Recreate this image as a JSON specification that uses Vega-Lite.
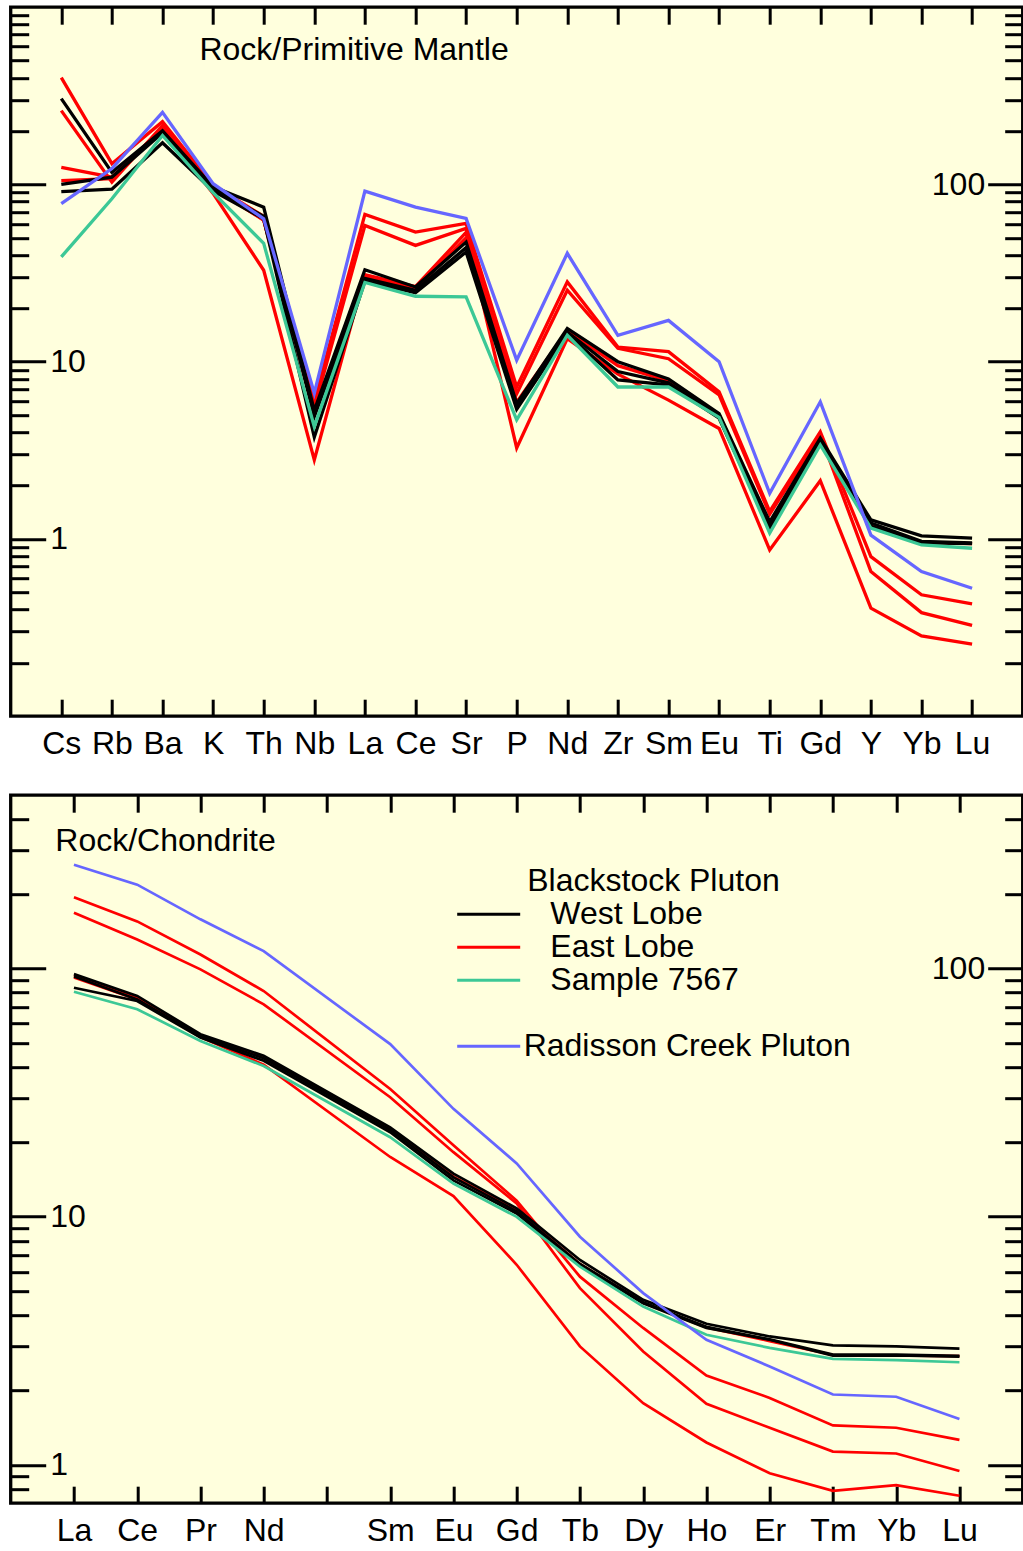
{
  "$schema": "https://vega.github.io/schema/vega-lite/v6.json",
  "background": "white",
  "padding": {"left": 6.7, "top": 3.2, "right": 0, "bottom": 0},
  "config": {
    "view": {"fill": "#FFFFDD", "stroke": "#000000", "strokeWidth": 3.3},
    "axis": {"domain": false, "grid": false, "tickColor": "#000000", "tickWidth": 3, "labelColor": "#000000", "labelFont": "Liberation Sans", "labelFontSize": 32, "labelOverlap": false, "labelFlush": false, "zindex": 1},
    "text": {"font": "Liberation Sans", "fontSize": 32, "color": "#000000"}
  },
  "datasets": {
    "pm": [
      {"g":"East Lobe","s":"E1","i":1,"v":401},{"g":"East Lobe","s":"E1","i":2,"v":131},{"g":"East Lobe","s":"E1","i":3,"v":226},{"g":"East Lobe","s":"E1","i":4,"v":99},{"g":"East Lobe","s":"E1","i":5,"v":66},{"g":"East Lobe","s":"E1","i":6,"v":6.0},{"g":"East Lobe","s":"E1","i":7,"v":67.8},{"g":"East Lobe","s":"E1","i":8,"v":53.9},{"g":"East Lobe","s":"E1","i":9,"v":60.3},{"g":"East Lobe","s":"E1","i":10,"v":7.2},{"g":"East Lobe","s":"E1","i":11,"v":28.2},{"g":"East Lobe","s":"E1","i":12,"v":12.1},{"g":"East Lobe","s":"E1","i":13,"v":11.4},{"g":"East Lobe","s":"E1","i":14,"v":6.76},{"g":"East Lobe","s":"E1","i":15,"v":1.43},{"g":"East Lobe","s":"E1","i":16,"v":4.02},{"g":"East Lobe","s":"E1","i":17,"v":0.795},{"g":"East Lobe","s":"E1","i":18,"v":0.484},{"g":"East Lobe","s":"E1","i":19,"v":0.43},
      {"g":"East Lobe","s":"E2","i":1,"v":261},{"g":"East Lobe","s":"E2","i":2,"v":103},{"g":"East Lobe","s":"E2","i":3,"v":215},{"g":"East Lobe","s":"E2","i":4,"v":97},{"g":"East Lobe","s":"E2","i":5,"v":63},{"g":"East Lobe","s":"E2","i":6,"v":5.5},{"g":"East Lobe","s":"E2","i":7,"v":58.7},{"g":"East Lobe","s":"E2","i":8,"v":45.3},{"g":"East Lobe","s":"E2","i":9,"v":56.5},{"g":"East Lobe","s":"E2","i":10,"v":6.6},{"g":"East Lobe","s":"E2","i":11,"v":25.3},{"g":"East Lobe","s":"E2","i":12,"v":11.9},{"g":"East Lobe","s":"E2","i":13,"v":10.4},{"g":"East Lobe","s":"E2","i":14,"v":6.5},{"g":"East Lobe","s":"E2","i":15,"v":1.38},{"g":"East Lobe","s":"E2","i":16,"v":3.85},{"g":"East Lobe","s":"E2","i":17,"v":0.655},{"g":"East Lobe","s":"E2","i":18,"v":0.384},{"g":"East Lobe","s":"E2","i":19,"v":0.325},
      {"g":"East Lobe","s":"E3","i":1,"v":125},{"g":"East Lobe","s":"E3","i":2,"v":110},{"g":"East Lobe","s":"E3","i":3,"v":205},{"g":"East Lobe","s":"E3","i":4,"v":89},{"g":"East Lobe","s":"E3","i":5,"v":32.8},{"g":"East Lobe","s":"E3","i":6,"v":2.79},{"g":"East Lobe","s":"E3","i":7,"v":31},{"g":"East Lobe","s":"E3","i":8,"v":26.5},{"g":"East Lobe","s":"E3","i":9,"v":53.7},{"g":"East Lobe","s":"E3","i":10,"v":3.26},{"g":"East Lobe","s":"E3","i":11,"v":13.5},{"g":"East Lobe","s":"E3","i":12,"v":8.5},{"g":"East Lobe","s":"E3","i":13,"v":6.07},{"g":"East Lobe","s":"E3","i":14,"v":4.2},{"g":"East Lobe","s":"E3","i":15,"v":0.867},{"g":"East Lobe","s":"E3","i":16,"v":2.13},{"g":"East Lobe","s":"E3","i":17,"v":0.407},{"g":"East Lobe","s":"E3","i":18,"v":0.284},{"g":"East Lobe","s":"E3","i":19,"v":0.255},
      {"g":"East Lobe","s":"E4","i":1,"v":105},{"g":"East Lobe","s":"E4","i":2,"v":108},{"g":"East Lobe","s":"E4","i":3,"v":208},{"g":"East Lobe","s":"E4","i":4,"v":95},{"g":"East Lobe","s":"E4","i":5,"v":63},{"g":"East Lobe","s":"E4","i":6,"v":5.1},{"g":"East Lobe","s":"E4","i":7,"v":30.5},{"g":"East Lobe","s":"E4","i":8,"v":25.8},{"g":"East Lobe","s":"E4","i":9,"v":50},{"g":"East Lobe","s":"E4","i":10,"v":5.9},{"g":"East Lobe","s":"E4","i":11,"v":15},{"g":"East Lobe","s":"E4","i":12,"v":9.5},{"g":"East Lobe","s":"E4","i":13,"v":7.8},{"g":"East Lobe","s":"E4","i":14,"v":5.0},{"g":"East Lobe","s":"E4","i":15,"v":1.22},{"g":"East Lobe","s":"E4","i":16,"v":3.65},{"g":"East Lobe","s":"E4","i":17,"v":1.2},{"g":"East Lobe","s":"E4","i":18,"v":0.96},{"g":"East Lobe","s":"E4","i":19,"v":0.94},
      {"g":"West Lobe","s":"W1","i":1,"v":305},{"g":"West Lobe","s":"W1","i":2,"v":117},{"g":"West Lobe","s":"W1","i":3,"v":201},{"g":"West Lobe","s":"W1","i":4,"v":97},{"g":"West Lobe","s":"W1","i":5,"v":74.5},{"g":"West Lobe","s":"W1","i":6,"v":5.3},{"g":"West Lobe","s":"W1","i":7,"v":33},{"g":"West Lobe","s":"W1","i":8,"v":26.4},{"g":"West Lobe","s":"W1","i":9,"v":47.3},{"g":"West Lobe","s":"W1","i":10,"v":5.8},{"g":"West Lobe","s":"W1","i":11,"v":15.4},{"g":"West Lobe","s":"W1","i":12,"v":10},{"g":"West Lobe","s":"W1","i":13,"v":8.0},{"g":"West Lobe","s":"W1","i":14,"v":5.1},{"g":"West Lobe","s":"W1","i":15,"v":1.25},{"g":"West Lobe","s":"W1","i":16,"v":3.7},{"g":"West Lobe","s":"W1","i":17,"v":1.28},{"g":"West Lobe","s":"W1","i":18,"v":1.04},{"g":"West Lobe","s":"W1","i":19,"v":1.01},
      {"g":"West Lobe","s":"W2","i":1,"v":100},{"g":"West Lobe","s":"W2","i":2,"v":110},{"g":"West Lobe","s":"W2","i":3,"v":196},{"g":"West Lobe","s":"W2","i":4,"v":95},{"g":"West Lobe","s":"W2","i":5,"v":66},{"g":"West Lobe","s":"W2","i":6,"v":4.9},{"g":"West Lobe","s":"W2","i":7,"v":29.5},{"g":"West Lobe","s":"W2","i":8,"v":25.3},{"g":"West Lobe","s":"W2","i":9,"v":44},{"g":"West Lobe","s":"W2","i":10,"v":5.6},{"g":"West Lobe","s":"W2","i":11,"v":14.7},{"g":"West Lobe","s":"W2","i":12,"v":8.8},{"g":"West Lobe","s":"W2","i":13,"v":7.6},{"g":"West Lobe","s":"W2","i":14,"v":4.95},{"g":"West Lobe","s":"W2","i":15,"v":1.2},{"g":"West Lobe","s":"W2","i":16,"v":3.6},{"g":"West Lobe","s":"W2","i":17,"v":1.23},{"g":"West Lobe","s":"W2","i":18,"v":0.97},{"g":"West Lobe","s":"W2","i":19,"v":0.95},
      {"g":"West Lobe","s":"W3","i":1,"v":91},{"g":"West Lobe","s":"W3","i":2,"v":94},{"g":"West Lobe","s":"W3","i":3,"v":172},{"g":"West Lobe","s":"W3","i":4,"v":92},{"g":"West Lobe","s":"W3","i":5,"v":64},{"g":"West Lobe","s":"W3","i":6,"v":3.75},{"g":"West Lobe","s":"W3","i":7,"v":28.5},{"g":"West Lobe","s":"W3","i":8,"v":24.5},{"g":"West Lobe","s":"W3","i":9,"v":41.6},{"g":"West Lobe","s":"W3","i":10,"v":5.4},{"g":"West Lobe","s":"W3","i":11,"v":14.4},{"g":"West Lobe","s":"W3","i":12,"v":7.9},{"g":"West Lobe","s":"W3","i":13,"v":7.4},{"g":"West Lobe","s":"W3","i":14,"v":4.8},{"g":"West Lobe","s":"W3","i":15,"v":1.15},{"g":"West Lobe","s":"W3","i":16,"v":3.53},{"g":"West Lobe","s":"W3","i":17,"v":1.18},{"g":"West Lobe","s":"W3","i":18,"v":0.95},{"g":"West Lobe","s":"W3","i":19,"v":0.94},
      {"g":"Sample 7567","s":"S1","i":1,"v":39},{"g":"Sample 7567","s":"S1","i":2,"v":83},{"g":"Sample 7567","s":"S1","i":3,"v":189},{"g":"Sample 7567","s":"S1","i":4,"v":90},{"g":"Sample 7567","s":"S1","i":5,"v":46.5},{"g":"Sample 7567","s":"S1","i":6,"v":4.3},{"g":"Sample 7567","s":"S1","i":7,"v":28},{"g":"Sample 7567","s":"S1","i":8,"v":23.4},{"g":"Sample 7567","s":"S1","i":9,"v":23.2},{"g":"Sample 7567","s":"S1","i":10,"v":4.7},{"g":"Sample 7567","s":"S1","i":11,"v":14.1},{"g":"Sample 7567","s":"S1","i":12,"v":7.2},{"g":"Sample 7567","s":"S1","i":13,"v":7.2},{"g":"Sample 7567","s":"S1","i":14,"v":4.85},{"g":"Sample 7567","s":"S1","i":15,"v":1.08},{"g":"Sample 7567","s":"S1","i":16,"v":3.39},{"g":"Sample 7567","s":"S1","i":17,"v":1.15},{"g":"Sample 7567","s":"S1","i":18,"v":0.925},{"g":"Sample 7567","s":"S1","i":19,"v":0.886},
      {"g":"Radisson Creek Pluton","s":"R1","i":1,"v":78},{"g":"Radisson Creek Pluton","s":"R1","i":2,"v":123},{"g":"Radisson Creek Pluton","s":"R1","i":3,"v":255},{"g":"Radisson Creek Pluton","s":"R1","i":4,"v":101},{"g":"Radisson Creek Pluton","s":"R1","i":5,"v":64},{"g":"Radisson Creek Pluton","s":"R1","i":6,"v":6.65},{"g":"Radisson Creek Pluton","s":"R1","i":7,"v":91.7},{"g":"Radisson Creek Pluton","s":"R1","i":8,"v":74.5},{"g":"Radisson Creek Pluton","s":"R1","i":9,"v":64.3},{"g":"Radisson Creek Pluton","s":"R1","i":10,"v":10.2},{"g":"Radisson Creek Pluton","s":"R1","i":11,"v":40.9},{"g":"Radisson Creek Pluton","s":"R1","i":12,"v":14.1},{"g":"Radisson Creek Pluton","s":"R1","i":13,"v":17.1},{"g":"Radisson Creek Pluton","s":"R1","i":14,"v":10},{"g":"Radisson Creek Pluton","s":"R1","i":15,"v":1.81},{"g":"Radisson Creek Pluton","s":"R1","i":16,"v":5.94},{"g":"Radisson Creek Pluton","s":"R1","i":17,"v":1.05},{"g":"Radisson Creek Pluton","s":"R1","i":18,"v":0.655},{"g":"Radisson Creek Pluton","s":"R1","i":19,"v":0.527}
    ],
    "ch": [
      {"g":"East Lobe","s":"E1","i":1,"v":194},{"g":"East Lobe","s":"E1","i":2,"v":155},{"g":"East Lobe","s":"E1","i":3,"v":114},{"g":"East Lobe","s":"E1","i":4,"v":81.2},{"g":"East Lobe","s":"E1","i":6,"v":32.7},{"g":"East Lobe","s":"E1","i":7,"v":19.4},{"g":"East Lobe","s":"E1","i":8,"v":11.6},{"g":"East Lobe","s":"E1","i":9,"v":5.73},{"g":"East Lobe","s":"E1","i":10,"v":3.56},{"g":"East Lobe","s":"E1","i":11,"v":2.29},{"g":"East Lobe","s":"E1","i":12,"v":1.86},{"g":"East Lobe","s":"E1","i":13,"v":1.44},{"g":"East Lobe","s":"E1","i":14,"v":1.41},{"g":"East Lobe","s":"E1","i":15,"v":1.26},
      {"g":"East Lobe","s":"E2","i":1,"v":168},{"g":"East Lobe","s":"E2","i":2,"v":131},{"g":"East Lobe","s":"E2","i":3,"v":99.3},{"g":"East Lobe","s":"E2","i":4,"v":71.8},{"g":"East Lobe","s":"E2","i":6,"v":30.3},{"g":"East Lobe","s":"E2","i":7,"v":18.2},{"g":"East Lobe","s":"E2","i":8,"v":11.3},{"g":"East Lobe","s":"E2","i":9,"v":5.15},{"g":"East Lobe","s":"E2","i":10,"v":2.86},{"g":"East Lobe","s":"E2","i":11,"v":1.76},{"g":"East Lobe","s":"E2","i":12,"v":1.41},{"g":"East Lobe","s":"E2","i":13,"v":1.13},{"g":"East Lobe","s":"E2","i":14,"v":1.11},{"g":"East Lobe","s":"E2","i":15,"v":0.944},
      {"g":"East Lobe","s":"E3","i":1,"v":92},{"g":"East Lobe","s":"E3","i":2,"v":75},{"g":"East Lobe","s":"E3","i":3,"v":53},{"g":"East Lobe","s":"E3","i":4,"v":41},{"g":"East Lobe","s":"E3","i":6,"v":17.4},{"g":"East Lobe","s":"E3","i":7,"v":12.1},{"g":"East Lobe","s":"E3","i":8,"v":6.4},{"g":"East Lobe","s":"E3","i":9,"v":3.0},{"g":"East Lobe","s":"E3","i":10,"v":1.77},{"g":"East Lobe","s":"E3","i":11,"v":1.23},{"g":"East Lobe","s":"E3","i":12,"v":0.924},{"g":"East Lobe","s":"E3","i":13,"v":0.785},{"g":"East Lobe","s":"E3","i":14,"v":0.828},{"g":"East Lobe","s":"E3","i":15,"v":0.75},
      {"g":"East Lobe","s":"E4","i":1,"v":94},{"g":"East Lobe","s":"E4","i":2,"v":76},{"g":"East Lobe","s":"E4","i":3,"v":53.8},{"g":"East Lobe","s":"E4","i":4,"v":43.8},{"g":"East Lobe","s":"E4","i":6,"v":22.5},{"g":"East Lobe","s":"E4","i":7,"v":14.5},{"g":"East Lobe","s":"E4","i":8,"v":10.6},{"g":"East Lobe","s":"E4","i":9,"v":6.45},{"g":"East Lobe","s":"E4","i":10,"v":4.5},{"g":"East Lobe","s":"E4","i":11,"v":3.58},{"g":"East Lobe","s":"E4","i":12,"v":3.15},{"g":"East Lobe","s":"E4","i":13,"v":2.77},{"g":"East Lobe","s":"E4","i":14,"v":2.76},{"g":"East Lobe","s":"E4","i":15,"v":2.74},
      {"g":"West Lobe","s":"W1","i":1,"v":95},{"g":"West Lobe","s":"W1","i":2,"v":77.6},{"g":"West Lobe","s":"W1","i":3,"v":54.4},{"g":"West Lobe","s":"W1","i":4,"v":44.5},{"g":"West Lobe","s":"W1","i":6,"v":22.9},{"g":"West Lobe","s":"W1","i":7,"v":14.9},{"g":"West Lobe","s":"W1","i":8,"v":10.8},{"g":"West Lobe","s":"W1","i":9,"v":6.69},{"g":"West Lobe","s":"W1","i":10,"v":4.62},{"g":"West Lobe","s":"W1","i":11,"v":3.7},{"g":"West Lobe","s":"W1","i":12,"v":3.29},{"g":"West Lobe","s":"W1","i":13,"v":3.03},{"g":"West Lobe","s":"W1","i":14,"v":3.0},{"g":"West Lobe","s":"W1","i":15,"v":2.94},
      {"g":"West Lobe","s":"W2","i":1,"v":93},{"g":"West Lobe","s":"W2","i":2,"v":75},{"g":"West Lobe","s":"W2","i":3,"v":53.5},{"g":"West Lobe","s":"W2","i":4,"v":43.5},{"g":"West Lobe","s":"W2","i":6,"v":22.4},{"g":"West Lobe","s":"W2","i":7,"v":14.4},{"g":"West Lobe","s":"W2","i":8,"v":10.5},{"g":"West Lobe","s":"W2","i":9,"v":6.45},{"g":"West Lobe","s":"W2","i":10,"v":4.52},{"g":"West Lobe","s":"W2","i":11,"v":3.6},{"g":"West Lobe","s":"W2","i":12,"v":3.2},{"g":"West Lobe","s":"W2","i":13,"v":2.78},{"g":"West Lobe","s":"W2","i":14,"v":2.78},{"g":"West Lobe","s":"W2","i":15,"v":2.75},
      {"g":"West Lobe","s":"W3","i":1,"v":83.7},{"g":"West Lobe","s":"W3","i":2,"v":74},{"g":"West Lobe","s":"W3","i":3,"v":52.7},{"g":"West Lobe","s":"W3","i":4,"v":42.5},{"g":"West Lobe","s":"W3","i":6,"v":21.9},{"g":"West Lobe","s":"W3","i":7,"v":14.0},{"g":"West Lobe","s":"W3","i":8,"v":10.3},{"g":"West Lobe","s":"W3","i":9,"v":6.39},{"g":"West Lobe","s":"W3","i":10,"v":4.48},{"g":"West Lobe","s":"W3","i":11,"v":3.56},{"g":"West Lobe","s":"W3","i":12,"v":3.19},{"g":"West Lobe","s":"W3","i":13,"v":2.75},{"g":"West Lobe","s":"W3","i":14,"v":2.76},{"g":"West Lobe","s":"W3","i":15,"v":2.73},
      {"g":"Sample 7567","s":"S1","i":1,"v":80.7},{"g":"Sample 7567","s":"S1","i":2,"v":68.6},{"g":"Sample 7567","s":"S1","i":3,"v":51.1},{"g":"Sample 7567","s":"S1","i":4,"v":40.5},{"g":"Sample 7567","s":"S1","i":6,"v":20.9},{"g":"Sample 7567","s":"S1","i":7,"v":13.6},{"g":"Sample 7567","s":"S1","i":8,"v":9.98},{"g":"Sample 7567","s":"S1","i":9,"v":6.29},{"g":"Sample 7567","s":"S1","i":10,"v":4.34},{"g":"Sample 7567","s":"S1","i":11,"v":3.34},{"g":"Sample 7567","s":"S1","i":12,"v":2.96},{"g":"Sample 7567","s":"S1","i":13,"v":2.67},{"g":"Sample 7567","s":"S1","i":14,"v":2.64},{"g":"Sample 7567","s":"S1","i":15,"v":2.59},
      {"g":"Radisson Creek Pluton","s":"R1","i":1,"v":262},{"g":"Radisson Creek Pluton","s":"R1","i":2,"v":218},{"g":"Radisson Creek Pluton","s":"R1","i":3,"v":158},{"g":"Radisson Creek Pluton","s":"R1","i":4,"v":117.6},{"g":"Radisson Creek Pluton","s":"R1","i":6,"v":49.6},{"g":"Radisson Creek Pluton","s":"R1","i":7,"v":27.2},{"g":"Radisson Creek Pluton","s":"R1","i":8,"v":16.4},{"g":"Radisson Creek Pluton","s":"R1","i":9,"v":8.3},{"g":"Radisson Creek Pluton","s":"R1","i":10,"v":4.92},{"g":"Radisson Creek Pluton","s":"R1","i":11,"v":3.19},{"g":"Radisson Creek Pluton","s":"R1","i":12,"v":2.49},{"g":"Radisson Creek Pluton","s":"R1","i":13,"v":1.92},{"g":"Radisson Creek Pluton","s":"R1","i":14,"v":1.88},{"g":"Radisson Creek Pluton","s":"R1","i":15,"v":1.53}
    ]
  },
  "spacing": 79,
  "bounds": "flush",
  "resolve": {"scale": {"color": "independent"}},
  "vconcat": [
    {
      "width": 1012,
      "height": 709,
      "data": {"name": "pm"},
      "resolve": {"axis": {"x": "independent", "y": "independent"}},
      "layer": [
        {
          "transform": [{"filter": "datum.g == 'East Lobe'"}],
          "mark": {"type": "line", "strokeWidth": 3.3},
          "encoding": {
            "x": {"field": "i", "type": "quantitative", "scale": {"domain": [0, 20], "nice": false, "zero": false},
                  "axis": {"orient": "bottom", "title": null, "values": [1,2,3,4,5,6,7,8,9,10,11,12,13,14,15,16,17,18,19], "tickSize": -17, "labelPadding": 29,
                           "labelExpr": "['','Cs','Rb','Ba','K','Th','Nb','La','Ce','Sr','P','Nd','Zr','Sm','Eu','Ti','Gd','Y','Yb','Lu'][datum.value]"}},
            "y": {"field": "v", "type": "quantitative", "scale": {"type": "log", "domain": [0.1, 1000], "nice": false},
                  "axis": {"orient": "left", "title": null, "values": [1, 10, 100], "tickSize": -35, "labelPadding": -4, "labelAlign": "left", "labelBaseline": "middle",
                           "labelExpr": "datum.value == 1 ? '1' : (datum.value == 10 ? '10' : '')"}},
            "color": {"field": "g", "type": "nominal", "scale": {"domain": ["West Lobe", "East Lobe", "Sample 7567", "Radisson Creek Pluton"], "range": ["#000000", "#FF0000", "#3CC896", "#6666FF"]}, "legend": null},
            "detail": {"field": "s"}
          }
        },
        {
          "transform": [{"filter": "datum.g == 'West Lobe'"}],
          "mark": {"type": "line", "strokeWidth": 3.3},
          "encoding": {
            "x": {"field": "i", "type": "quantitative", "scale": {"domain": [0, 20], "nice": false, "zero": false},
                  "axis": {"orient": "top", "title": null, "values": [1,2,3,4,5,6,7,8,9,10,11,12,13,14,15,16,17,18,19], "tickSize": -17, "labels": false}},
            "y": {"field": "v", "type": "quantitative", "scale": {"type": "log", "domain": [0.1, 1000], "nice": false},
                  "axis": {"orient": "left", "title": null, "values": [0.2,0.3,0.4,0.5,0.6,0.7,0.8,0.9,2,3,4,5,6,7,8,9,20,30,40,50,60,70,80,90,200,300,400,500,600,700,800,900], "tickSize": -18, "labels": false}},
            "color": {"field": "g", "type": "nominal", "legend": null},
            "detail": {"field": "s"}
          }
        },
        {
          "transform": [{"filter": "datum.g == 'Sample 7567'"}],
          "mark": {"type": "line", "strokeWidth": 3.3},
          "encoding": {
            "x": {"field": "i", "type": "quantitative", "scale": {"domain": [0, 20], "nice": false, "zero": false}, "axis": null},
            "y": {"field": "v", "type": "quantitative", "scale": {"type": "log", "domain": [0.1, 1000], "nice": false},
                  "axis": {"orient": "right", "title": null, "values": [1, 10, 100], "tickSize": -35, "labelPadding": -3, "labelAlign": "right", "labelBaseline": "middle",
                           "labelExpr": "datum.value == 100 ? '100' : ''"}},
            "color": {"field": "g", "type": "nominal", "legend": null},
            "detail": {"field": "s"}
          }
        },
        {
          "transform": [{"filter": "datum.g == 'Radisson Creek Pluton'"}],
          "mark": {"type": "line", "strokeWidth": 3.3},
          "encoding": {
            "x": {"field": "i", "type": "quantitative", "scale": {"domain": [0, 20], "nice": false, "zero": false}, "axis": null},
            "y": {"field": "v", "type": "quantitative", "scale": {"type": "log", "domain": [0.1, 1000], "nice": false},
                  "axis": {"orient": "right", "title": null, "values": [0.2,0.3,0.4,0.5,0.6,0.7,0.8,0.9,2,3,4,5,6,7,8,9,20,30,40,50,60,70,80,90,200,300,400,500,600,700,800,900], "tickSize": -18, "labels": false}},
            "color": {"field": "g", "type": "nominal", "legend": null},
            "detail": {"field": "s"}
          }
        },
        {
          "data": {"values": [{"t": "Rock/Primitive Mantle"}]},
          "mark": {"type": "text", "align": "left", "baseline": "middle"},
          "encoding": {
            "text": {"field": "t"},
            "x": {"datum": 3.73, "type": "quantitative", "axis": null},
            "y": {"datum": 575, "type": "quantitative", "axis": null}
          }
        }
      ]
    },
    {
      "width": 1012,
      "height": 708,
      "data": {"name": "ch"},
      "resolve": {"axis": {"x": "independent", "y": "independent"}},
      "layer": [
        {
          "transform": [{"filter": "datum.g == 'East Lobe'"}],
          "mark": {"type": "line", "strokeWidth": 2.7},
          "encoding": {
            "x": {"field": "i", "type": "quantitative", "scale": {"domain": [0, 16], "nice": false, "zero": false},
                  "axis": {"orient": "bottom", "title": null, "values": [1,2,3,4,5,6,7,8,9,10,11,12,13,14,15], "tickSize": -17, "labelPadding": 29,
                           "labelExpr": "['','La','Ce','Pr','Nd','','Sm','Eu','Gd','Tb','Dy','Ho','Er','Tm','Yb','Lu'][datum.value]"}},
            "y": {"field": "v", "type": "quantitative", "scale": {"type": "log", "domain": [0.7, 500], "nice": false},
                  "axis": {"orient": "left", "title": null, "values": [1, 10, 100], "tickSize": -35, "labelPadding": -4, "labelAlign": "left", "labelBaseline": "middle",
                           "labelExpr": "datum.value == 1 ? '1' : (datum.value == 10 ? '10' : '')"}},
            "color": {"field": "g", "type": "nominal",
                      "scale": {"domain": ["West Lobe", "East Lobe", "Sample 7567", " ", "Radisson Creek Pluton"], "range": ["#000000", "#FF0000", "#3CC896", "transparent", "#6666FF"]},
                      "legend": {
                        "orient": "none", "legendX": 445.5, "legendY": 71, "direction": "vertical", "padding": 0, "offset": 0,
                        "title": "\u200b\u00a0\u00a0\u00a0\u00a0\u00a0\u00a0\u00a0\u00a0Blackstock Pluton",
                        "titleFont": "Liberation Sans", "titleFontSize": 32, "titleFontWeight": "normal", "titleColor": "#000000", "titlePadding": 0, "titleLimit": 0,
                        "labelFont": "Liberation Sans", "labelFontSize": 32, "labelColor": "#000000", "labelLimit": 0, "labelOffset": 19,
                        "labelExpr": "(datum.value == 'Radisson Creek Pluton' || datum.value == ' ') ? datum.label : '\u200b\u00a0\u00a0\u00a0' + datum.label",
                        "symbolType": "M-3,0H3", "symbolSize": 441, "symbolStrokeWidth": 3, "symbolOffset": 16.5,
                        "rowPadding": 1
                      }},
            "detail": {"field": "s"}
          }
        },
        {
          "transform": [{"filter": "datum.g == 'West Lobe'"}],
          "mark": {"type": "line", "strokeWidth": 2.7},
          "encoding": {
            "x": {"field": "i", "type": "quantitative", "scale": {"domain": [0, 16], "nice": false, "zero": false},
                  "axis": {"orient": "top", "title": null, "values": [1,2,3,4,5,6,7,8,9,10,11,12,13,14,15], "tickSize": -17, "labels": false}},
            "y": {"field": "v", "type": "quantitative", "scale": {"type": "log", "domain": [0.7, 500], "nice": false},
                  "axis": {"orient": "left", "title": null, "values": [0.8,0.9,2,3,4,5,6,7,8,9,20,30,40,50,60,70,80,90,200,300,400], "tickSize": -18, "labels": false}},
            "color": {"field": "g", "type": "nominal"},
            "detail": {"field": "s"}
          }
        },
        {
          "transform": [{"filter": "datum.g == 'Sample 7567'"}],
          "mark": {"type": "line", "strokeWidth": 2.7},
          "encoding": {
            "x": {"field": "i", "type": "quantitative", "scale": {"domain": [0, 16], "nice": false, "zero": false}, "axis": null},
            "y": {"field": "v", "type": "quantitative", "scale": {"type": "log", "domain": [0.7, 500], "nice": false},
                  "axis": {"orient": "right", "title": null, "values": [1, 10, 100], "tickSize": -35, "labelPadding": -3, "labelAlign": "right", "labelBaseline": "middle",
                           "labelExpr": "datum.value == 100 ? '100' : ''"}},
            "color": {"field": "g", "type": "nominal"},
            "detail": {"field": "s"}
          }
        },
        {
          "transform": [{"filter": "datum.g == 'Radisson Creek Pluton'"}],
          "mark": {"type": "line", "strokeWidth": 2.7},
          "encoding": {
            "x": {"field": "i", "type": "quantitative", "scale": {"domain": [0, 16], "nice": false, "zero": false}, "axis": null},
            "y": {"field": "v", "type": "quantitative", "scale": {"type": "log", "domain": [0.7, 500], "nice": false},
                  "axis": {"orient": "right", "title": null, "values": [0.8,0.9,2,3,4,5,6,7,8,9,20,30,40,50,60,70,80,90,200,300,400], "tickSize": -18, "labels": false}},
            "color": {"field": "g", "type": "nominal"},
            "detail": {"field": "s"}
          }
        },
        {
          "data": {"values": [{"t": "Rock/Chondrite"}]},
          "mark": {"type": "text", "align": "left", "baseline": "middle"},
          "encoding": {
            "text": {"field": "t"},
            "x": {"datum": 0.705, "type": "quantitative", "axis": null},
            "y": {"datum": 326, "type": "quantitative", "axis": null}
          }
        }
      ]
    }
  ]
}
